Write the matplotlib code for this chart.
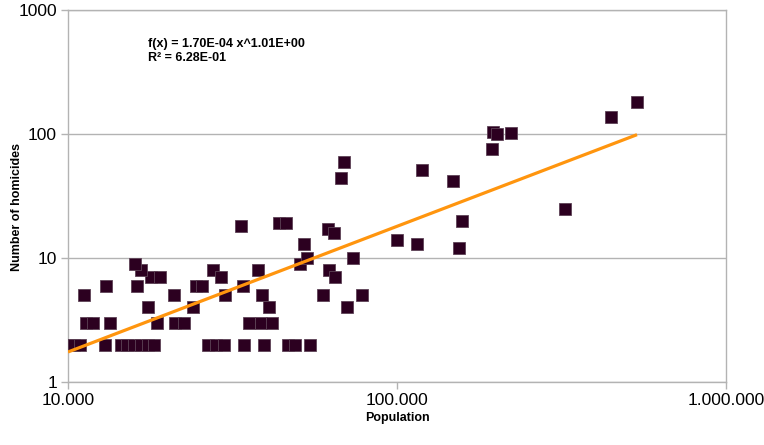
import numpy as np
import matplotlib
matplotlib.use("Agg")
import matplotlib.pyplot as plt
from matplotlib.ticker import FixedLocator, FuncFormatter, NullLocator

# population of each town and its number of homicides
population = [10000, 10430, 10880, 11340, 11910, 13000, 13420, 14490, 15120, 15870,
              16670, 17510, 18260, 18640, 11220, 13050, 16210, 17880, 19040, 16670,
              15930, 17510, 21000, 21140, 22520, 23990, 24490, 25550, 27590, 29180,
              30000, 26650, 28180, 29800, 33560, 34030, 34270, 35420, 37670, 38470,
              38880, 39290, 40830, 41690, 43780, 45980, 46640, 48980, 50890, 52170,
              53260, 54390, 59770, 61710, 64360, 62140, 64800, 67580, 69020, 70720,
              73240, 78010, 100000, 115040, 119100, 148000, 154300, 157600, 194500, 195800,
              201400, 222100, 324000, 447300, 536400]
homicides = [2, 2, 2, 3, 3, 2, 3, 2, 2, 2,
             2, 2, 2, 3, 5, 6, 6, 7, 7, 8,
             9, 4, 5, 3, 3, 4, 6, 6, 8, 7,
             5, 2, 2, 2, 18, 6, 2, 3, 8, 3,
             5, 2, 4, 3, 19, 19, 2, 2, 9, 13,
             10, 2, 5, 17, 16, 8, 7, 44, 60, 4,
             10, 5, 14, 13, 51, 42, 12, 20, 75, 103,
             100, 101, 25, 136, 180]

eq_text = "f(x) = 1.70E-04 x^1.01E+00\nR² = 6.28E-01"

x_ticks = [10000, 100000, 1000000]
y_ticks = [1, 10, 100, 1000]

plt.rcParams['font.family'] = ['Liberation Sans', 'DejaVu Sans']
grid_col = '#b3b3b3'

fig = plt.figure(figsize=(7.64, 4.45), dpi=100)
ax = fig.add_axes([68/764, 1 - 382/445, (726 - 68)/764, (382 - 10)/445])

ax.set_xscale('log')
ax.set_yscale('log')
ax.set_xlim(10000, 1000000)
ax.set_ylim(1, 1000)

ax.plot(population, homicides, linestyle='none', marker='s', markersize=8.6,
        markerfacecolor='#2c0020', markeredgecolor='#5e4356', markeredgewidth=0.6,
        zorder=3)

# power trend line: least squares on the log values
b, log_a = np.polyfit(np.log10(population), np.log10(homicides), 1)
xs = np.array([min(population), max(population)], dtype=float)
ax.plot(xs, 10 ** log_a * xs ** b, color='#ff950e', linewidth=2.3, zorder=4,
        solid_capstyle='butt')

ax.xaxis.set_major_locator(FixedLocator(x_ticks))
ax.yaxis.set_major_locator(FixedLocator(y_ticks))
ax.xaxis.set_minor_locator(NullLocator())
ax.yaxis.set_minor_locator(NullLocator())
ax.xaxis.set_major_formatter(FuncFormatter(lambda v, p: f"{int(round(v)):,}".replace(",", ".")))
ax.yaxis.set_major_formatter(FuncFormatter(lambda v, p: f"{int(round(v))}"))

ax.tick_params(axis='both', colors=grid_col, labelcolor='black', labelsize=12.5,
               length=5, width=1, direction='out')
ax.tick_params(axis='x', pad=3)
ax.tick_params(axis='y', pad=3)

ax.grid(axis='y', color=grid_col, linewidth=1)
ax.set_axisbelow(True)
for side in ['left', 'right', 'bottom', 'top']:
    ax.spines[side].set_color(grid_col)
    ax.spines[side].set_linewidth(1)

ax.set_xlabel('Population', fontsize=9, fontweight='bold', labelpad=3)
ax.set_ylabel('Number of homicides', fontsize=9, fontweight='bold')
ax.yaxis.set_label_coords((23 - 68) / 658, (382 - 207) / 372)

fig.text(148/764, 1 - 38/445, eq_text, fontsize=9, fontweight='bold',
         ha='left', va='top', linespacing=1.25)

fig.savefig('out.png', dpi=100)
